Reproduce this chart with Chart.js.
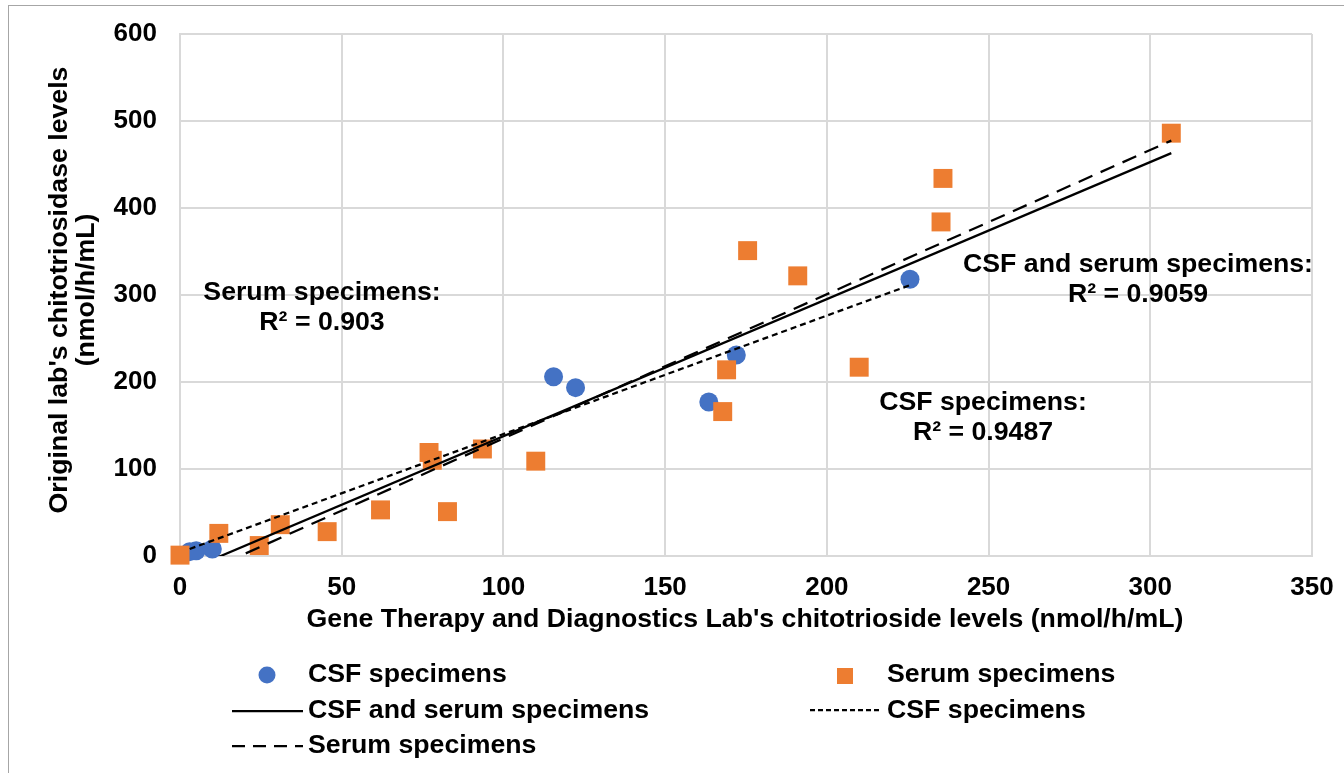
<!DOCTYPE html>
<html>
<head>
<meta charset="utf-8">
<script src="https://cdn.jsdelivr.net/npm/chart.js@4"></script>
<style>
  html, body { margin: 0; padding: 0; background: #fff; }
  #wrap { position: relative; width: 1344px; height: 773px; }
  #frame { position: absolute; left: 8px; top: 5px; width: 1344px; height: 780px; border: 1.5px solid #a6a6a6; box-sizing: border-box; }
  canvas { position: absolute; left: 0; top: 0; }
</style>
</head>
<body>
<div id="wrap">
  <div id="frame"></div>
  <canvas id="myChart" width="1344" height="773"></canvas>
</div>
<script>
// CSF specimens: x = GTDL level, y = original lab level
const csfX = [3, 5, 10, 115.5, 122.3, 163.5, 172, 225.7];
const csfY = [5, 6, 8, 206, 193.5, 177, 231, 318];

// serum specimens
const serumX = [0, 12, 24.5, 31, 45.5, 62, 77, 78, 82.7, 93.5, 110, 167.8, 169, 175.5, 191, 210, 235.3, 235.9, 306.5];
const serumY = [1, 26, 12, 36, 28, 53, 119, 110, 51, 123, 109, 166, 214, 351, 322, 217, 384, 434, 486];

const xTicks = [0, 50, 100, 150, 200, 250, 300, 350];
const yTicks = [0, 100, 200, 300, 400, 500, 600];

const FONT = "'Liberation Sans', Arial, sans-serif";
const TEXT = "bold 26.7px " + FONT;
const BLUE = "#4472C4";
const ORANGE = "#ED7D31";

function zip(xs, ys) {
  return xs.map((x, i) => ({ x: x, y: ys[i] }));
}

// least squares line over the x range of the points
function trend(xs, ys) {
  const n = xs.length;
  const mx = xs.reduce((a, b) => a + b, 0) / n;
  const my = ys.reduce((a, b) => a + b, 0) / n;
  let sxy = 0, sxx = 0;
  for (let i = 0; i < n; i++) {
    sxy += (xs[i] - mx) * (ys[i] - my);
    sxx += (xs[i] - mx) * (xs[i] - mx);
  }
  const m = sxy / sxx;
  const b = my - m * mx;
  const x0 = Math.min(...xs), x1 = Math.max(...xs);
  return [{ x: x0, y: m * x0 + b }, { x: x1, y: m * x1 + b }];
}

const allX = csfX.concat(serumX);
const allY = csfY.concat(serumY);

// fixed axis boxes, no extra room for overhanging tick labels
function fixAxis(size) {
  return (axis) => {
    if (axis.isHorizontal()) axis.height = size; else axis.width = size;
    axis.paddingTop = axis.paddingBottom = axis.paddingLeft = axis.paddingRight = 0;
  };
}

// text drawn on top: axis titles, R² notes and the legend
const extras = {
  id: "extras",
  afterDraw(chart) {
    const ctx = chart.ctx;
    ctx.save();
    ctx.fillStyle = "#000";
    ctx.textBaseline = "middle";
    ctx.font = TEXT;
    ctx.textAlign = "center";
    ctx.fillText("Gene Therapy and Diagnostics Lab's chitotrioside levels (nmol/h/mL)", 745, 620);

    ctx.save();
    ctx.translate(60, 290);
    ctx.rotate(-Math.PI / 2);
    ctx.fillText("Original lab's chitotriosidase levels", 0, 0);
    ctx.fillText("(nmol/h/mL)", 0, 27);
    ctx.restore();

    ctx.fillText("Serum specimens:", 322, 293);
    ctx.fillText("R\u00b2 = 0.903", 322, 323);
    ctx.fillText("CSF and serum specimens:", 1138, 265);
    ctx.fillText("R\u00b2 = 0.9059", 1138, 295);
    ctx.fillText("CSF specimens:", 983, 403);
    ctx.fillText("R\u00b2 = 0.9487", 983, 433);

    // legend
    ctx.textAlign = "left";
    ctx.fillText("CSF specimens", 308, 675);
    ctx.fillText("Serum specimens", 887, 675);
    ctx.fillText("CSF and serum specimens", 308, 711);
    ctx.fillText("CSF specimens", 887, 711);
    ctx.fillText("Serum specimens", 308, 746);

    ctx.fillStyle = BLUE;
    ctx.beginPath();
    ctx.arc(267, 675, 8.5, 0, Math.PI * 2);
    ctx.fill();
    ctx.fillStyle = ORANGE;
    ctx.fillRect(837, 668, 16, 16);

    ctx.strokeStyle = "#000";
    ctx.lineWidth = 2.25;
    const legLine = (x0, x1, y, dash) => {
      ctx.setLineDash(dash);
      ctx.beginPath();
      ctx.moveTo(x0, y);
      ctx.lineTo(x1, y);
      ctx.stroke();
    };
    legLine(232, 303, 711, []);
    legLine(810, 880, 710, [5, 3]);
    legLine(232, 303, 746, [13, 8]);
    ctx.restore();
  }
};

const ctx = document.getElementById("myChart").getContext("2d");
const myChart = new Chart(ctx, {
  type: "scatter",
  data: {
    datasets: [
      {
        label: "CSF and serum specimens",
        type: "line",
        data: trend(allX, allY),
        borderColor: "#000",
        borderWidth: 2.25,
        pointRadius: 0,
        fill: false
      },
      {
        label: "CSF specimens trend",
        type: "line",
        data: trend(csfX, csfY),
        borderColor: "#000",
        borderWidth: 2.25,
        borderDash: [6, 4],
        pointRadius: 0,
        fill: false
      },
      {
        label: "Serum specimens trend",
        type: "line",
        data: trend(serumX, serumY),
        borderColor: "#000",
        borderWidth: 2.25,
        borderDash: [15, 9],
        pointRadius: 0,
        fill: false
      },
      {
        label: "Serum specimens",
        data: zip(serumX, serumY),
        pointStyle: "rect",
        pointRadius: 13.4,
        backgroundColor: ORANGE,
        borderColor: ORANGE,
        borderWidth: 0,
        clip: false
      },
      {
        label: "CSF specimens",
        data: zip(csfX, csfY),
        pointStyle: "circle",
        pointRadius: 9.5,
        backgroundColor: BLUE,
        borderColor: BLUE,
        borderWidth: 0,
        clip: false
      }
    ]
  },
  options: {
    responsive: false,
    animation: false,
    layout: { padding: { top: 34, right: 32, left: 0, bottom: 0 } },
    plugins: {
      legend: { display: false },
      tooltip: { enabled: false }
    },
    scales: {
      x: {
        type: "linear",
        min: 0,
        max: 350,
        afterBuildTicks: (axis) => { axis.ticks = xTicks.map(v => ({ value: v })); },
        afterFit: fixAxis(217),
        grid: { color: "#d9d9d9", lineWidth: 2, drawTicks: false },
        border: { color: "#d9d9d9", width: 2 },
        ticks: { color: "#000", padding: 16, font: { family: FONT, size: 26, weight: "bold" } }
      },
      y: {
        type: "linear",
        min: 0,
        max: 600,
        afterBuildTicks: (axis) => { axis.ticks = yTicks.map(v => ({ value: v })); },
        afterFit: fixAxis(180),
        grid: { color: "#d9d9d9", lineWidth: 2, drawTicks: false },
        border: { color: "#d9d9d9", width: 2 },
        ticks: { color: "#000", padding: 23, font: { family: FONT, size: 26, weight: "bold" } }
      }
    }
  },
  plugins: [extras]
});
</script>
</body>
</html>
